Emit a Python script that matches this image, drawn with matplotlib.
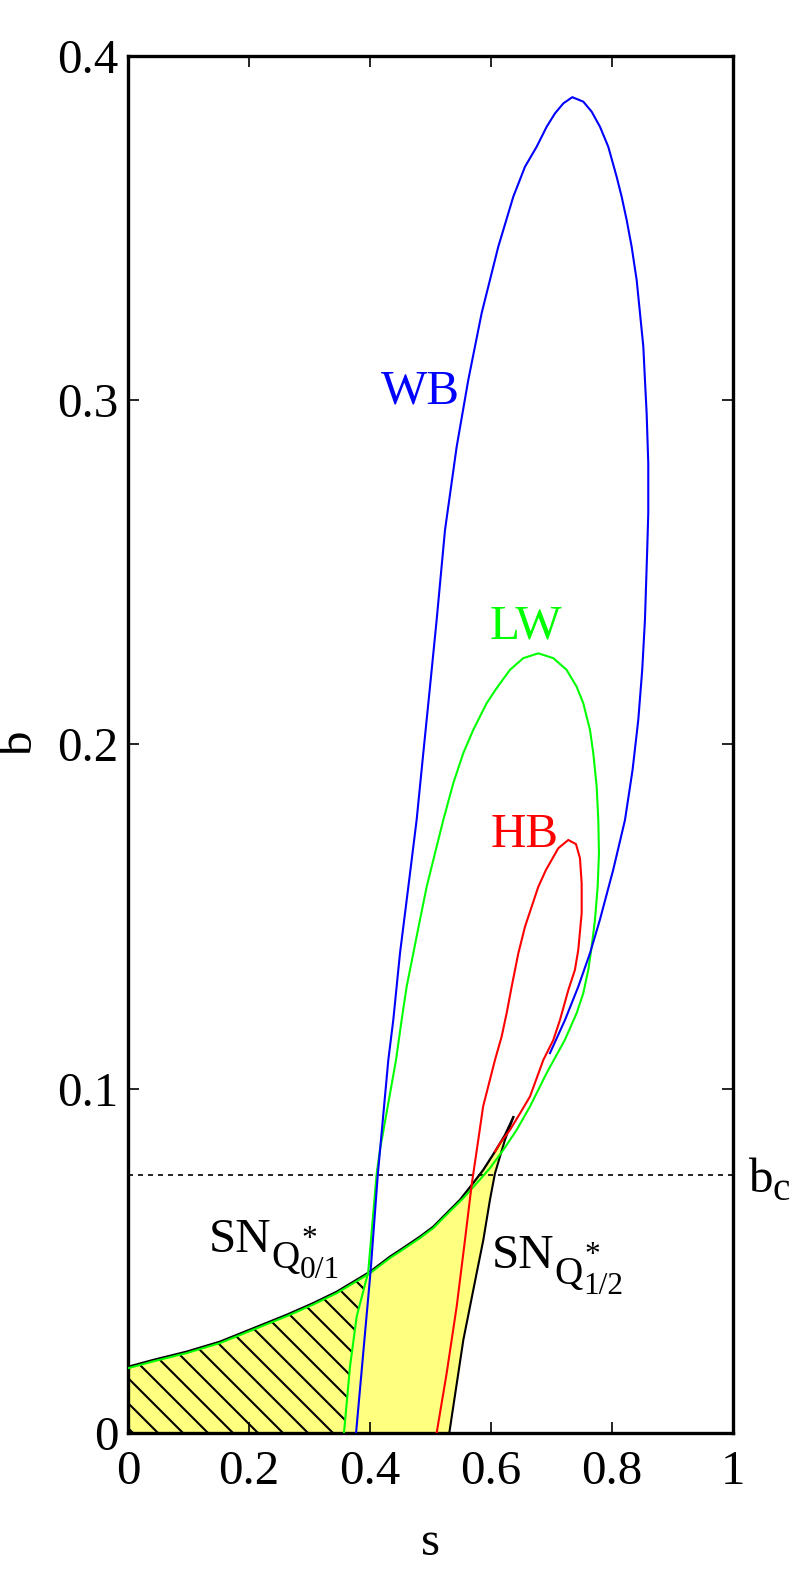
import numpy as np
import matplotlib
matplotlib.use("Agg")
import matplotlib.pyplot as plt

plt.rcParams['font.family'] = ['Liberation Serif', 'DejaVu Serif']
plt.rcParams['hatch.linewidth'] = 1.0
plt.rcParams['hatch.color'] = 'black'

# critical b (dotted line)
bc = 0.075

# SN_Q*0/1 (upper black curve), ends at the cusp
sn01_s = [0.0, 0.0419, 0.097, 0.152, 0.2072, 0.2623, 0.3063, 0.345, 0.3725, 0.400, 0.4331, 0.4496,
          0.4826, 0.5047, 0.5267, 0.5488, 0.5681, 0.5873, 0.6066, 0.6231, 0.6369]
sn01_b = [0.0192, 0.0212, 0.0236, 0.0265, 0.0304, 0.0343, 0.0377, 0.0410, 0.0439, 0.0468, 0.0512, 0.0531,
          0.0570, 0.0599, 0.0638, 0.0677, 0.0720, 0.0764, 0.0817, 0.0865, 0.0917]

# SN_Q*1/2 (right black curve), from the cusp down to b=0
sn12_s = [0.6369, 0.6231, 0.6066, 0.5983, 0.5873, 0.5763, 0.5653, 0.5543, 0.5311]
sn12_b = [0.0917, 0.0851, 0.0754, 0.0677, 0.0560, 0.0464, 0.0367, 0.0270, 0.0]

# WB (blue)
wb_s = [0.377, 0.401, 0.413, 0.4303, 0.4385, 0.4496, 0.4634, 0.4771, 0.4881, 0.4992, 0.5102, 0.524,
        0.5433, 0.5625, 0.5846, 0.6121, 0.6369, 0.6562, 0.6755, 0.692, 0.7058, 0.7196, 0.7344, 0.7526,
        0.7664, 0.7802, 0.7939, 0.8077, 0.816, 0.8242, 0.8325, 0.8408, 0.8463, 0.8518, 0.8545, 0.8573,
        0.860, 0.860, 0.8584, 0.8545, 0.850, 0.8435, 0.834, 0.8215, 0.802, 0.780, 0.7636, 0.7443,
        0.7223, 0.6975]
wb_b = [0.0, 0.047, 0.0752, 0.1083, 0.1199, 0.1393, 0.1586, 0.178, 0.1974, 0.2167, 0.2361, 0.2622,
        0.2864, 0.3058, 0.3252, 0.3445, 0.3590, 0.3677, 0.3735, 0.3793, 0.3832, 0.3861, 0.3879, 0.3866,
        0.3837, 0.3793, 0.3735, 0.3648, 0.3590, 0.3523, 0.3445, 0.3348, 0.3252, 0.3155, 0.3058, 0.2961,
        0.2816, 0.2671, 0.2574, 0.2361, 0.2216, 0.2071, 0.1925, 0.178, 0.1635, 0.149, 0.1393, 0.1296,
        0.1199, 0.1103]

# LW (green): left branch, loop, then back along SN_Q*0/1 to s=0
lw_s = [0.357, 0.367, 0.378, 0.397, 0.411, 0.4165, 0.443, 0.4523, 0.4606, 0.4716, 0.4826, 0.4937,
        0.5074, 0.5212, 0.5377, 0.5542, 0.5708, 0.5928, 0.6094, 0.6314, 0.6534, 0.6782, 0.703, 0.725,
        0.7416, 0.7526, 0.7636, 0.7691, 0.7747, 0.7774, 0.7785, 0.7763, 0.7719, 0.7664, 0.7609, 0.7526,
        0.7416, 0.722, 0.692, 0.6645, 0.6425, 0.6204, 0.5983, 0.5763, 0.5543, 0.5267, 0.5047, 0.4826,
        0.4496, 0.4331, 0.400, 0.3725, 0.345, 0.3063, 0.2623, 0.2072, 0.152, 0.097, 0.0419, 0.0]
lw_b = [0.0, 0.0193, 0.0338, 0.0466, 0.0752, 0.0822, 0.1083, 0.1199, 0.1296, 0.1393, 0.149, 0.1586,
        0.1683, 0.178, 0.1887, 0.1974, 0.2042, 0.2119, 0.2163, 0.2216, 0.2250, 0.2264, 0.2250, 0.2216,
        0.2167, 0.2119, 0.2042, 0.1974, 0.1877, 0.178, 0.1683, 0.1586, 0.149, 0.1412, 0.1345, 0.1277,
        0.1219, 0.1141, 0.1045, 0.0948, 0.088, 0.0822, 0.0769, 0.0725, 0.0682, 0.0634, 0.0595, 0.0566,
        0.0527, 0.0508, 0.0464, 0.0435, 0.0406, 0.0373, 0.0339, 0.0300, 0.0261, 0.0232, 0.0208, 0.0188]

# HB (red)
hb_s = [0.5102, 0.5267, 0.5433, 0.557, 0.568, 0.579, 0.587, 0.6066, 0.6176, 0.6259, 0.6342, 0.6452,
        0.6562, 0.6672, 0.6782, 0.6909, 0.7113, 0.7278, 0.7405, 0.7471, 0.7499, 0.7499, 0.7443, 0.7388,
        0.7278, 0.714, 0.703, 0.6865, 0.6645, 0.648, 0.6314, 0.6149, 0.6066]
hb_b = [0.0, 0.0173, 0.0367, 0.056, 0.072, 0.0851, 0.0948, 0.1083, 0.1151, 0.1219, 0.1296, 0.1393,
        0.147, 0.1528, 0.1586, 0.1635, 0.1698, 0.1722, 0.171, 0.1669, 0.1596, 0.1509, 0.1403, 0.1345,
        0.1286, 0.1199, 0.1141, 0.1083, 0.0977, 0.0928, 0.088, 0.0841, 0.0817]

xticks = [0, 0.2, 0.4, 0.6, 0.8, 1.0]
xticklabels = ['0', '0.2', '0.4', '0.6', '0.8', '1']
yticks = [0, 0.1, 0.2, 0.3, 0.4]
yticklabels = ['0', '0.1', '0.2', '0.3', '0.4']

fs = 23.5
fig = plt.figure(figsize=(793 / 150, 1586 / 150), dpi=150)
ax = fig.add_axes([0.1614, 0.0965, 0.7629, 0.8685])

# yellow region under SN_Q0/1, left of SN_Q1/2
ys = np.concatenate([sn01_s, sn12_s[1:], [0.0]])
yb = np.concatenate([sn01_b, sn12_b[1:], [0.0]])
ax.fill(ys, yb, facecolor='#ffff80', edgecolor='none', zorder=1)

# hatched part: left of the LW branch
s01 = np.array(sn01_s)
b01 = np.array(sn01_b)
keep = s01 < lw_s[3]
hs = np.concatenate([s01[keep], lw_s[:4][::-1], [0.0]])
hb = np.concatenate([b01[keep], lw_b[:4][::-1], [0.0]])
ax.fill(hs, hb, facecolor='none', edgecolor='black', linewidth=0, hatch='\\\\', zorder=2)

ax.axhline(bc, color='black', lw=0.8, ls=(0, (3, 3)), zorder=3)

ax.plot(sn01_s, sn01_b, color='black', lw=1.1, zorder=4)
ax.plot(sn12_s, sn12_b, color='black', lw=1.0, zorder=4)
ax.plot(lw_s, lw_b, color='#00ff00', lw=1.0, zorder=5)
ax.plot(wb_s, wb_b, color='#0000ff', lw=1.0, zorder=6)
ax.plot(hb_s, hb_b, color='#ff0000', lw=1.0, zorder=7)

ax.text(0.484, 0.2990, 'WB', color='#0000ff', fontsize=fs, ha='center', va='baseline')
ax.text(0.6576, 0.2308, 'LW', color='#00ff00', fontsize=fs, ha='center', va='baseline')
ax.text(0.655, 0.1703, 'HB', color='#ff0000', fontsize=fs, ha='center', va='baseline')


def sn_label(s, b, sub):
    # SN with a subscript Q, which itself carries * and the fraction
    ax.text(s, b, 'SN', fontsize=fs, ha='left', va='baseline')
    kw = dict(xy=(s, b), textcoords='offset points', ha='left', va='baseline')
    ax.annotate('Q', xytext=(30, -7.7), fontsize=fs * 0.8, **kw)
    ax.annotate('*', xytext=(44.5, 2.4), fontsize=fs * 0.64, **kw)
    ax.annotate(sub, xytext=(44, -12.5), fontsize=fs * 0.64, **kw)


sn_label(0.133, 0.0526, '0/1')
sn_label(0.601, 0.0478, '1/2')

# b_c label outside the right spine
tr = ax.get_yaxis_transform()
ax.annotate('b', xy=(1.0248, 0.070), xycoords=tr, fontsize=fs, ha='left', va='baseline',
            annotation_clip=False)
ax.annotate('c', xy=(1.0248, 0.070), xycoords=tr, xytext=(12, -3.8), textcoords='offset points',
            fontsize=fs * 0.8, ha='left', va='baseline', annotation_clip=False)

ax.set_xlim(0, 1)
ax.set_ylim(0, 0.4)
ax.set_xticks(xticks)
ax.set_xticklabels(xticklabels)
ax.set_yticks(yticks)
ax.set_yticklabels(yticklabels)
ax.tick_params(direction='in', top=True, right=True, length=5.5, width=0.8, labelsize=fs)
ax.tick_params(axis='x', pad=8)
ax.tick_params(axis='y', pad=4.5)
for sp in ax.spines.values():
    sp.set_linewidth(1.6)

ax.set_xlabel('s', fontsize=fs, va='center')
ax.xaxis.set_label_coords(0.5, -0.08)
ax.set_ylabel('b', fontsize=fs, va='center', ha='center')
ax.yaxis.set_label_coords(-0.178, 0.5)

plt.savefig('out.png', dpi=150)
